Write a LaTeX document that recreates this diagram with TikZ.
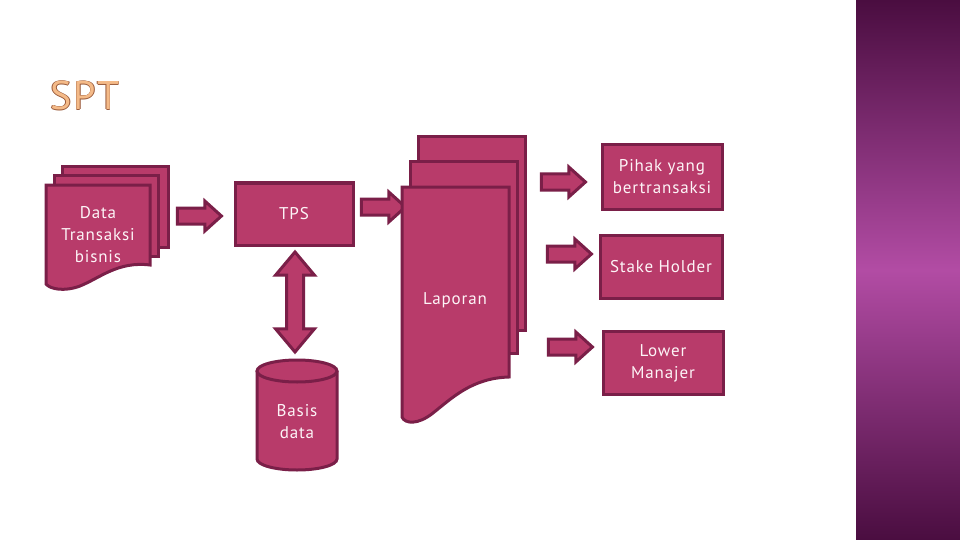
\documentclass[tikz,border=0pt]{standalone}
\usepackage{fontspec}
\setmainfont{PT Sans}[LetterSpace=5]
\usetikzlibrary{shapes.arrows}
\definecolor{boxfill}{HTML}{B83B6A}
\definecolor{boxline}{HTML}{7A1F48}
\definecolor{txt}{HTML}{FDF4F7}
\definecolor{titlefill}{HTML}{F4BA88}
\definecolor{titleline}{HTML}{9A5A3A}
\definecolor{panA}{HTML}{4A0D40}
\definecolor{panB}{HTML}{B24CA4}
\begin{document}
\begin{tikzpicture}[x=1pt,y=-1pt,
  shp/.style={fill=boxfill,draw=boxline,line width=3pt,line join=miter},
  lbl/.style={text=txt,font=\fontsize{17}{22}\selectfont,align=center},
  box/.style={shp,lbl,minimum width=118pt,minimum height=62pt,inner sep=0pt},
  ttl/.style={font=\fontsize{40}{42}\selectfont},
  harrow/.style={shp,single arrow,minimum height=44pt,minimum width=30pt,
    single arrow head extend=7pt,single arrow tip angle=84,inner sep=6.5pt}]
\useasboundingbox (0,0) rectangle (960,540);
\fill[white] (0,0) rectangle (960,540);
% right panel
\shade[top color=panA,bottom color=panA,middle color=panB] (856,0) rectangle (960,540);
% title
\node[ttl,text=titleline] (titleA) at (84.4,96) {SPT};
\node[ttl,text=titleline] (titleB) at (85.6,96) {SPT};
\node[ttl,text=titleline] (titleC) at (85,95.4) {SPT};
\node[ttl,text=titleline] (titleD) at (85,96.6) {SPT};
\node[ttl,text=titlefill] (title) at (85,96) {SPT};
% data document stack
\draw[shp] (62,167) rectangle (168,247);
\draw[shp] (54,176) rectangle (158,256);
\draw[shp] (46,185) -- (150,185) -- (150,265)
  .. controls (118,261) and (100,278) .. (80,286)
  .. controls (64,292) and (50,289) .. (46,284) -- cycle;
\node[lbl] (data) at (98,235) {Data\\Transaksi\\bisnis};
% arrow 1
\node[harrow] (a1) at (195,216) {};
% TPS
\node[box,minimum width=118pt,minimum height=62pt] (tps) at (294,214) {TPS};
% arrow 2
\node[harrow] (a2) at (379,207) {};
% laporan stack
\draw[shp] (418,137) rectangle (525,330);
\draw[shp] (410,162) rectangle (517,353);
\draw[shp] (402,187) -- (509,187) -- (509,377)
  .. controls (472,378) and (452,398) .. (433,413)
  .. controls (418,425) and (405,424) .. (402,417) -- cycle;
\node[lbl] (lap) at (455,300) {Laporan};
% right arrows
\node[harrow] (a3) at (559,182) {};
\node[harrow] (a4) at (565,254) {};
\node[harrow] (a5) at (566,347) {};
% right boxes
\node[box,minimum width=120pt,minimum height=64pt] (pihak) at (662,177) {Pihak yang\\bertransaksi};
\node[box,minimum width=122pt,minimum height=63pt] (stake) at (661,267) {Stake Holder};
\node[box,minimum width=120pt,minimum height=63pt] (lower) at (663,363) {Lower\\Manajer};
% double arrow
\node[shp,double arrow,shape border rotate=90,minimum height=100pt,minimum width=36pt,
  double arrow head extend=11pt,double arrow tip angle=80,inner sep=7pt] (da) at (295,302) {};
% database cylinder
\draw[shp] (257,371) -- (257,459) arc[start angle=180,end angle=0,x radius=40,y radius=11] -- (337,371);
\draw[shp] (297,371) ellipse [x radius=40, y radius=11];
\node[lbl] (db) at (297,422) {Basis\\data};
\end{tikzpicture}
\end{document}
